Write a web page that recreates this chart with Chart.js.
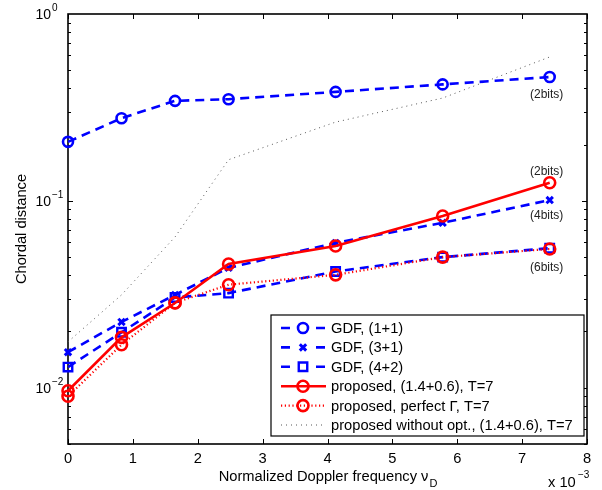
<!doctype html>
<html>
  <head>
    <title>Chordal distance vs Doppler</title>
    <script src="https://cdn.jsdelivr.net/npm/chart.js"></script>
    <style>
      body {
        margin: 0;
        background: #fff;
      }
      #wrap {
        width: 602px;
        height: 490px;
      }
    </style>
  </head>
  <body>
    <div id="wrap"><canvas id="chart" width="602" height="490"></canvas></div>

    <script>
      // normalized Doppler frequency, in units of 10^-3
      const doppler = [0, 0.825, 1.65, 2.475, 4.125, 5.775, 7.425];

      const gdf11 = [0.207, 0.277, 0.343, 0.35, 0.383, 0.42, 0.46];
      const gdf31 = [0.0155, 0.0225, 0.0314, 0.0438, 0.0596, 0.0763, 0.101];
      const gdf42 = [0.0129, 0.0198, 0.0304, 0.0321, 0.0419, 0.05, 0.0558];
      const proposed = [0.00964, 0.0186, 0.0284, 0.0459, 0.0574, 0.083, 0.125];
      const perfectGamma = [0.009, 0.017, 0.0285, 0.0356, 0.0402, 0.05, 0.0553];
      const noOpt = [0.0176, 0.0314, 0.0641, 0.166, 0.264, 0.355, 0.589];

      const xTicks = [0, 1, 2, 3, 4, 5, 6, 7, 8];
      const yDecades = [-2, -1, 0];

      const seriesNames = [
        'GDF, (1+1)',
        'GDF, (3+1)',
        'GDF, (4+2)',
        'proposed, (1.4+0.6), T=7',
        'proposed, perfect \u0393, T=7',
        'proposed without opt., (1.4+0.6), T=7',
      ];
      const bitLabels = ['(2bits)', '(2bits)', '(4bits)', '(6bits)'];

      const FONT = '"Liberation Sans", Arial, Helvetica, sans-serif';
      const BLUE = '#0000ff';
      const RED = '#ff0000';

      const pts = (ys) => doppler.map((x, i) => ({ x: x, y: ys[i] }));

      const datasets = [
        {
          label: seriesNames[0],
          data: pts(gdf11),
          borderColor: BLUE,
          borderWidth: 2.6,
          borderDash: [9, 6],
          pointStyle: 'circle',
          pointRadius: 5,
          pointBorderWidth: 2.6,
          order: 5,
        },
        {
          label: seriesNames[1],
          data: pts(gdf31),
          borderColor: BLUE,
          borderWidth: 2.6,
          borderDash: [9, 6],
          pointStyle: 'crossRot',
          pointRadius: 4.5,
          pointBorderWidth: 3,
          order: 4,
        },
        {
          label: seriesNames[2],
          data: pts(gdf42),
          borderColor: BLUE,
          borderWidth: 2.6,
          borderDash: [9, 6],
          pointStyle: 'rect',
          pointRadius: 6,
          pointBorderWidth: 2.4,
          order: 3,
        },
        {
          label: seriesNames[3],
          data: pts(proposed),
          borderColor: RED,
          borderWidth: 2.6,
          pointStyle: 'circle',
          pointRadius: 5.5,
          pointBorderWidth: 2.6,
          order: 1,
        },
        {
          label: seriesNames[4],
          data: pts(perfectGamma),
          borderColor: RED,
          borderWidth: 2.2,
          borderDash: [1.2, 2.6],
          pointStyle: 'circle',
          pointRadius: 5.5,
          pointBorderWidth: 2.6,
          order: 2,
        },
        {
          label: seriesNames[5],
          data: pts(noOpt),
          borderColor: '#555',
          borderWidth: 1,
          borderDash: [1, 4],
          pointRadius: 0,
          order: 6,
        },
      ];
      datasets.forEach((d) => {
        d.pointBorderColor = d.borderColor;
        d.pointBackgroundColor = 'rgba(0,0,0,0)';
        d.backgroundColor = 'rgba(0,0,0,0)';
        d.fill = false;
        d.tension = 0;
        d.clip = false;
      });

      function marker(ctx, style, x, y, r, lw, color) {
        ctx.save();
        ctx.strokeStyle = color;
        ctx.lineWidth = lw;
        ctx.setLineDash([]);
        ctx.beginPath();
        if (style === 'circle') {
          ctx.arc(x, y, r, 0, Math.PI * 2);
        } else if (style === 'rect') {
          const s = r * Math.SQRT1_2;
          ctx.rect(x - s, y - s, 2 * s, 2 * s);
        } else if (style === 'crossRot') {
          const s = r * Math.SQRT1_2;
          ctx.moveTo(x - s, y - s);
          ctx.lineTo(x + s, y + s);
          ctx.moveTo(x - s, y + s);
          ctx.lineTo(x + s, y - s);
        }
        ctx.stroke();
        ctx.restore();
      }

      // axes box, inward ticks, decade labels, titles
      const frame = {
        id: 'frame',
        beforeDatasetsDraw(chart) {
          const { ctx, chartArea: a, scales } = chart;
          ctx.save();
          ctx.strokeStyle = '#000';
          ctx.lineWidth = 1;
          ctx.beginPath();
          xTicks.forEach((t) => {
            const px = Math.round(scales.x.getPixelForValue(t)) + 0.5;
            ctx.moveTo(px, a.bottom);
            ctx.lineTo(px, a.bottom - 5);
            ctx.moveTo(px, a.top);
            ctx.lineTo(px, a.top + 5);
          });
          yDecades.forEach((d) => {
            for (let k = 1; k <= 9; k++) {
              const v = k * Math.pow(10, d - 1);
              if (v < scales.y.min - 1e-12 || v > scales.y.max + 1e-12) continue;
              const py = Math.round(scales.y.getPixelForValue(v)) + 0.5;
              const len = k === 1 ? 5 : 3;
              ctx.moveTo(a.left, py);
              ctx.lineTo(a.left + len, py);
              ctx.moveTo(a.right, py);
              ctx.lineTo(a.right - len, py);
            }
          });
          ctx.stroke();
          ctx.lineWidth = 1.6;
          ctx.strokeRect(a.left, a.top, a.right - a.left, a.bottom - a.top);
          ctx.restore();
        },
        afterDatasetsDraw(chart) {
          const { ctx, chartArea: a, scales } = chart;
          ctx.save();
          ctx.fillStyle = '#000';

          // y decade labels 10^n
          yDecades.forEach((d) => {
            const py = scales.y.getPixelForValue(Math.pow(10, d));
            ctx.font = '14px ' + FONT;
            ctx.textAlign = 'right';
            ctx.textBaseline = 'middle';
            ctx.fillText('10', 51, py + 1);
            ctx.font = '10px ' + FONT;
            ctx.textAlign = 'left';
            ctx.textBaseline = 'alphabetic';
            ctx.fillText(d === 0 ? '0' : '\u2212' + -d, 52, py - 3);
          });

          // y title
          ctx.save();
          ctx.translate(22, (a.top + a.bottom) / 2);
          ctx.rotate(-Math.PI / 2);
          ctx.font = '14.7px ' + FONT;
          ctx.textAlign = 'center';
          ctx.textBaseline = 'middle';
          ctx.fillText('Chordal distance', 0, 0);
          ctx.restore();

          // x title with subscript
          const main = 'Normalized Doppler frequency \u03bd';
          ctx.font = '14.7px ' + FONT;
          const w1 = ctx.measureText(main).width;
          ctx.font = '11px ' + FONT;
          const w2 = ctx.measureText('D').width;
          let x0 = (a.left + a.right) / 2 - (w1 + w2) / 2;
          ctx.textAlign = 'left';
          ctx.textBaseline = 'alphabetic';
          ctx.font = '14.7px ' + FONT;
          ctx.fillText(main, x0, 481);
          ctx.font = '11px ' + FONT;
          ctx.fillText('D', x0 + w1 + 1, 487);

          // x multiplier
          ctx.font = '14.7px ' + FONT;
          ctx.fillText('x 10', 548, 487);
          ctx.font = '10px ' + FONT;
          ctx.fillText('\u22123', 578, 478);

          // bit annotations next to last points
          const last = doppler.length - 1;
          const px = scales.x.getPixelForValue(doppler[last]) - 3;
          const notes = [
            [gdf11[last], 18],
            [proposed[last], -11],
            [gdf31[last], 16],
            [gdf42[last], 19],
          ];
          ctx.font = '12px ' + FONT;
          ctx.fillStyle = '#222';
          ctx.textAlign = 'center';
          ctx.textBaseline = 'middle';
          notes.forEach((n, i) => {
            ctx.fillText(bitLabels[i], px, scales.y.getPixelForValue(n[0]) + n[1]);
          });

          // legend box
          const lx = 271,
            ly = 315,
            lw = 313,
            lh = 121;
          ctx.fillStyle = '#fff';
          ctx.fillRect(lx, ly, lw, lh);
          ctx.strokeStyle = '#000';
          ctx.lineWidth = 1.2;
          ctx.strokeRect(lx, ly, lw, lh);
          chart.data.datasets.forEach((ds, i) => {
            const ry = ly + 13 + i * 19.4;
            ctx.save();
            ctx.strokeStyle = ds.borderColor;
            ctx.lineWidth = ds.borderWidth;
            const dash = ds.borderDash || [];
            ctx.beginPath();
            if (dash.length && dash[0] >= 5) {
              ctx.setLineDash([]);
              ctx.moveTo(281, ry);
              ctx.lineTo(290, ry);
              ctx.moveTo(316, ry);
              ctx.lineTo(325, ry);
            } else {
              ctx.setLineDash(dash);
              ctx.moveTo(281, ry);
              ctx.lineTo(326, ry);
            }
            ctx.stroke();
            ctx.restore();
            if (ds.pointRadius > 0) {
              marker(ctx, ds.pointStyle, 303, ry, ds.pointRadius, ds.pointBorderWidth, ds.borderColor);
            }
            ctx.fillStyle = '#000';
            ctx.font = '14.7px ' + FONT;
            ctx.textAlign = 'left';
            ctx.textBaseline = 'middle';
            ctx.fillText(ds.label, 331, ry + 1);
          });
          ctx.restore();
        },
      };

      new Chart(document.getElementById('chart').getContext('2d'), {
        type: 'line',
        data: { datasets: datasets },
        options: {
          responsive: false,
          animation: false,
          events: [],
          layout: { padding: { top: 14, right: 15, left: 0, bottom: 0 } },
          plugins: {
            legend: { display: false },
            tooltip: { enabled: false },
          },
          scales: {
            x: {
              type: 'linear',
              min: 0,
              max: 8,
              grid: { display: false, drawTicks: false },
              border: { display: false },
              afterBuildTicks: (s) => {
                s.ticks = xTicks.map((v) => ({ value: v }));
              },
              afterFit: (s) => {
                s.height = 46;
              },
              ticks: {
                color: '#000',
                padding: 6,
                maxRotation: 0,
                font: { family: FONT, size: 14.7 },
              },
            },
            y: {
              type: 'logarithmic',
              min: 0.005,
              max: 1,
              grid: { display: false },
              border: { display: false },
              ticks: { display: false },
              afterFit: (s) => {
                s.width = 68;
              },
            },
          },
        },
        plugins: [frame],
      });
    </script>
  </body>
</html>
